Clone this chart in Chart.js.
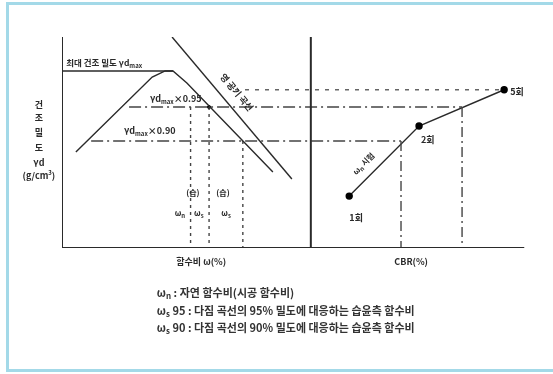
<!DOCTYPE html>
<html><head><meta charset="utf-8">
<script src="https://cdn.jsdelivr.net/npm/chart.js@4"></script>
<style>html,body{margin:0;padding:0;background:#fff;}canvas{display:block;}</style>
</head><body>
<canvas id="c" width="553" height="374"></canvas>
<script>
// ---- schematic values (relative units: w 0–100 along the axis, γd 0–100 up the axis) ----
const axisW = [0, 100];
const axisD = [0, 100];
const rightAxisW = 53.8;
const maxDensityW = [0, 24.0];
const maxDensity = 83.9;
const compactionW = [3.0, 19.5, 22.3, 24.0, 27.0, 45.6];
const compactionD = [45.5, 81.0, 83.9, 83.9, 78.2, 36.0];
const zavW = [23.8, 49.7];
const zavD = [100, 32.7];
const level95 = 66.8, level90 = 50.7, levelTop = 75.0;
const line95W = [14.5, 86.5];
const line90W = [6.3, 73.3];
const topLineW = [37.4, 95.6];
const wnW = 27.8, ws95W = 31.8, ws90W = 39.1;
const right90W = 73.3, right95W = 86.5;
const testW = [62.1, 77.2, 95.6];
const testD = [24.6, 57.8, 75.0];
const testLabels = ['1회', '2회', '5회'];
const notes = [
  [['ω','n'],['n','s'],[' : 자연 함수비(시공 함수비)','n']],
  [['ω','n'],['s','s'],[' 95 : 다짐 곡선의 95% 밀도에 대응하는 습윤측 함수비','n']],
  [['ω','n'],['s','s'],[' 90 : 다짐 곡선의 90% 밀도에 대응하는 습윤측 함수비','n']]
];

const INK = '#2a2a2a';
const pts = (xs, ys) => xs.map((x, i) => ({x, y: ys[i]}));
const seg = (data, opt) => Object.assign({data, showLine: true, pointRadius: 0, borderColor: INK, borderWidth: 1.4, fill: false, tension: 0}, opt || {});

const datasets = [
  seg(pts([0, 0], axisD), {borderWidth: 2}),
  seg(pts(axisW, [0, 0]), {borderWidth: 2}),
  seg(pts([rightAxisW, rightAxisW], axisD), {borderWidth: 2}),
  seg(pts(maxDensityW, [maxDensity, maxDensity]), {borderWidth: 1.6}),
  seg(pts(compactionW, compactionD), {borderWidth: 1.4}),
  seg(pts(zavW, zavD), {borderWidth: 1.4}),
  seg(pts(line95W, [level95, level95]), {borderDash: [12, 4, 2, 4], borderColor: '#444'}),
  seg(pts(line90W, [level90, level90]), {borderDash: [12, 4, 2, 4], borderColor: '#444'}),
  seg(pts(topLineW, [levelTop, levelTop]), {borderDash: [4, 6], borderColor: '#666'}),
  seg(pts([wnW, wnW], [level95, 0]), {borderDash: [3, 4], borderColor: '#444'}),
  seg(pts([ws95W, ws95W], [level95, 0]), {borderDash: [3, 4], borderColor: '#444'}),
  seg(pts([ws90W, ws90W], [level90, 0]), {borderDash: [3, 4], borderColor: '#444'}),
  seg(pts([right90W, right90W], [level90, 0]), {borderDash: [10, 4, 2, 4], borderColor: '#444'}),
  seg(pts([right95W, right95W], [level95, 0]), {borderDash: [10, 4, 2, 4], borderColor: '#444'}),
  seg(pts(testW, testD), {borderWidth: 1.4, pointRadius: 3, pointBackgroundColor: '#000', pointBorderColor: '#000'}),
  {data: [{x: ws95W, y: level95}], showLine: false, pointRadius: 1.6, pointBackgroundColor: '#000', pointBorderColor: '#000'}
];

const FONT = '"Noto Sans CJK KR", sans-serif';
function rich(ctx, parts, x, y, size, align) {
  const fs = k => (k === 'n' ? size : Math.round(size * 0.7));
  let w = 0;
  const m = parts.map(([t, k]) => {
    ctx.font = 'bold ' + fs(k) + 'px ' + FONT;
    const ww = ctx.measureText(t).width; w += ww; return ww;
  });
  let cx = align === 'center' ? x - w / 2 : (align === 'right' ? x - w : x);
  parts.forEach(([t, k], i) => {
    ctx.font = 'bold ' + fs(k) + 'px ' + FONT;
    const dy = k === 's' ? size * 0.3 : (k === 'u' ? -size * 0.35 : 0);
    ctx.fillText(t, cx, y + dy);
    cx += m[i];
  });
}

const labels = [
  {p: [['최대 건조 밀도 γd','n'],['max','s']], x: 0.9, y: 87.7, size: 8.5},
  {p: [['γd','n'],['max','s'],['×0.95','n']], x: 19.0, y: 70.6, size: 9},
  {p: [['γd','n'],['max','s'],['×0.90','n']], x: 13.4, y: 55.5, size: 9},
  {p: [['영 공기 곡선','n']], x: 37.8, y: 73.8, size: 9, rot: 50, align: 'center'},
  {p: [['ω','n'],['n','s'],[' 시험','n']], x: 65.2, y: 40.0, size: 8, rot: -45, align: 'center'},
  {p: [['(습)','n']], x: 28.3, y: 26.1, size: 8, align: 'center'},
  {p: [['(습)','n']], x: 34.8, y: 26.1, size: 8, align: 'center'},
  {p: [['ω','n'],['n','s']], x: 25.5, y: 16.6, size: 8, align: 'center'},
  {p: [['ω','n'],['s','s']], x: 29.6, y: 16.6, size: 8, align: 'center'},
  {p: [['ω','n'],['s','s']], x: 35.5, y: 16.6, size: 8, align: 'center'},
  {p: [['함수비 ω(%)','n']], x: 30.1, y: -6.6, size: 9, align: 'center'},
  {p: [['CBR(%)','n']], x: 75.5, y: -6.6, size: 9, align: 'center'}
];

const drawPlugin = {
  id: 'decor',
  beforeDraw(chart) {
    const ctx = chart.ctx;
    ctx.save();
    ctx.fillStyle = '#fff';
    ctx.fillRect(0, 0, chart.width, chart.height);
    ctx.strokeStyle = '#a3d9e8';
    ctx.lineWidth = 3;
    ctx.beginPath();
    ctx.moveTo(560, 3.5); ctx.lineTo(7.5, 3.5); ctx.lineTo(7.5, 370.5); ctx.lineTo(560, 370.5);
    ctx.stroke();
    ctx.restore();
  },
  afterDraw(chart) {
    const ctx = chart.ctx, X = chart.scales.x, Y = chart.scales.y;
    ctx.save();
    ctx.fillStyle = INK;
    ctx.textBaseline = 'middle';
    labels.forEach(l => {
      const px = X.getPixelForValue(l.x), py = Y.getPixelForValue(l.y);
      ctx.save();
      ctx.translate(px, py);
      if (l.rot) ctx.rotate(l.rot * Math.PI / 180);
      rich(ctx, l.p, 0, 0, l.size, l.align || 'left');
      ctx.restore();
    });
    // test labels
    const offs = [[1.5, -10.4, 'center'], [1.9, -6.6, 'center'], [1.3, -1.1, 'left']];
    testLabels.forEach((t, i) => {
      rich(ctx, [[t, 'n']], X.getPixelForValue(testW[i] + offs[i][0]), Y.getPixelForValue(testD[i] + offs[i][1]), 9, offs[i][2]);
    });
    // y-axis title, stacked
    const colX = X.getPixelForValue(-5.0);
    const stack = [[[['건','n']], 105], [[['조','n']], 118], [[['밀','n']], 133], [[['도','n']], 148], [[['γd','n']], 163], [[['(g/cm','n'],['3','u'],[')','n']], 176]];
    stack.forEach(([p, py]) => rich(ctx, p, colX, py, 9, 'center'));
    // notes
    const nx = X.getPixelForValue(20.5);
    ctx.fillStyle = '#333';
    [293, 311, 328].forEach((py, i) => rich(ctx, notes[i], nx, py, 11, 'left'));
    ctx.restore();
  }
};

new Chart(document.getElementById('c'), {
  type: 'scatter',
  data: {datasets},
  options: {
    responsive: false,
    animation: false,
    layout: {padding: {left: 62, right: 28.5, top: 37, bottom: 126}},
    plugins: {legend: {display: false}, tooltip: {enabled: false}},
    scales: {
      x: {type: 'linear', min: 0, max: 100, display: false},
      y: {type: 'linear', min: 0, max: 100, display: false}
    }
  },
  plugins: [drawPlugin]
});
</script>
</body></html>
